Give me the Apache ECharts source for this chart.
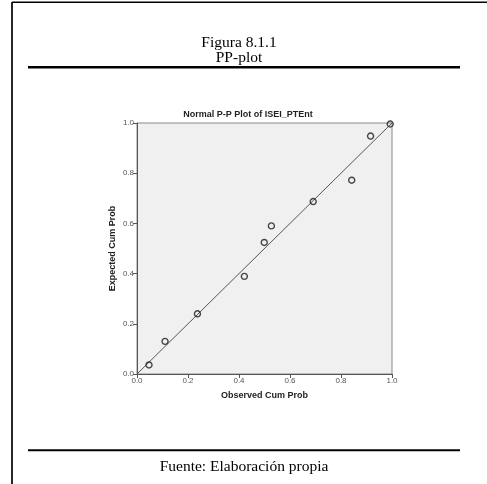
<!DOCTYPE html>
<html>
<head>
<meta charset="utf-8">
<script src="https://cdn.jsdelivr.net/npm/echarts@6/dist/echarts.min.js"></script>
<style>
  html, body { margin: 0; padding: 0; background: #fff; }
  #chart { width: 487px; height: 484px; }
</style>
</head>
<body>
<div id="chart"></div>
<script>
// Observed vs expected cumulative probabilities for ISEI_PTEnt
const observedCumProb = [0.047, 0.110, 0.237, 0.421, 0.499, 0.527, 0.691, 0.842, 0.916, 0.993];
const expectedCumProb = [0.036, 0.130, 0.240, 0.389, 0.524, 0.590, 0.687, 0.772, 0.948, 0.996];
// Reference line of a perfect normal fit (expected = observed)
const referenceLine = [[0, 0], [1, 1]];
const axisTicks = [0, 0.2, 0.4, 0.6, 0.8, 1.0];

const points = observedCumProb.map((x, i) => [x, expectedCumProb[i]]);

const chart = echarts.init(document.getElementById('chart'), null, { renderer: 'canvas' });

const serif = '"Liberation Serif", "DejaVu Serif", serif';
const sans = '"Liberation Sans", Arial, sans-serif';
const pageText = { fontFamily: serif, fontSize: 15.5, fontWeight: 'normal', color: '#000' };

chart.setOption({
  backgroundColor: '#fff',
  animation: false,
  title: [
    { text: 'Figura 8.1.1', left: 239, top: 35, padding: 0, textAlign: 'center', textStyle: pageText },
    { text: 'PP-plot', left: 239, top: 50, padding: 0, textAlign: 'center', textStyle: pageText },
    {
      text: 'Normal P-P Plot of ISEI_PTEnt',
      left: 248, top: 110.5, padding: 0, textAlign: 'center',
      textStyle: { fontFamily: sans, fontSize: 9, fontWeight: 'bold', color: '#222' }
    },
    { text: 'Fuente: Elaboración propia', left: 244, top: 459, padding: 0, textAlign: 'center', textStyle: pageText }
  ],
  graphic: [
    { type: 'line', shape: { x1: 12, y1: 2, x2: 12, y2: 484 }, style: { stroke: '#000', lineWidth: 1.7 } },
    { type: 'line', shape: { x1: 12, y1: 2.3, x2: 487, y2: 2.3 }, style: { stroke: '#000', lineWidth: 1.4 } },
    { type: 'line', shape: { x1: 28, y1: 67.3, x2: 460, y2: 67.3 }, style: { stroke: '#000', lineWidth: 2.6 } },
    { type: 'line', shape: { x1: 28, y1: 450.3, x2: 460, y2: 450.3 }, style: { stroke: '#000', lineWidth: 2 } }
  ],
  grid: {
    left: 137, right: 95, top: 123, bottom: 110,
    show: true,
    backgroundColor: '#f0f0f0',
    borderColor: '#8a8a8a',
    borderWidth: 1
  },
  xAxis: {
    type: 'value',
    min: 0, max: 1, interval: 0.2,
    name: 'Observed Cum Prob',
    nameLocation: 'middle',
    nameGap: 17,
    nameMoveOverlap: false,
    nameTextStyle: { fontFamily: sans, fontSize: 9, fontWeight: 'bold', color: '#222' },
    axisLine: { show: true, lineStyle: { color: '#555', width: 1 } },
    axisTick: { show: true, inside: false, length: 4, lineStyle: { color: '#555' } },
    axisLabel: {
      fontFamily: sans, fontSize: 8, color: '#555', margin: 3,
      formatter: v => axisTicks.includes(Math.round(v * 10) / 10) ? v.toFixed(1) : ''
    },
    splitLine: { show: false }
  },
  yAxis: {
    type: 'value',
    min: 0, max: 1, interval: 0.2,
    name: 'Expected Cum Prob',
    nameLocation: 'middle',
    nameGap: 20,
    nameMoveOverlap: false,
    nameTextStyle: { fontFamily: sans, fontSize: 9, fontWeight: 'bold', color: '#222' },
    axisLine: { show: true, lineStyle: { color: '#555', width: 1 } },
    axisTick: { show: true, inside: false, length: 4, lineStyle: { color: '#555' } },
    axisLabel: {
      fontFamily: sans, fontSize: 8, color: '#555', margin: 3,
      formatter: v => v.toFixed(1)
    },
    splitLine: { show: false }
  },
  series: [
    {
      type: 'line',
      data: referenceLine,
      symbol: 'none',
      silent: true,
      lineStyle: { color: '#555', width: 1 },
      z: 2
    },
    {
      type: 'scatter',
      data: points,
      symbol: 'circle',
      symbolSize: 6,
      itemStyle: { color: 'rgba(0,0,0,0)', borderColor: '#1a1a1a', borderWidth: 1.4 },
      z: 3
    }
  ]
});
</script>
</body>
</html>
